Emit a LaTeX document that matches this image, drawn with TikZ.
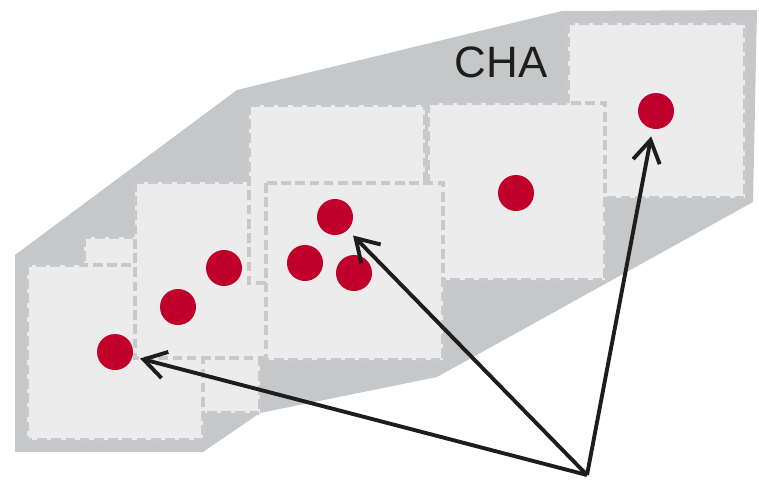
\documentclass[tikz,border=0pt]{standalone}
\usepackage{fontspec}
\setmainfont{Liberation Sans}
\usepackage{xcolor}
\usetikzlibrary{arrows.meta}
\definecolor{hullgray}{RGB}{198,199,201}
\definecolor{cellgray}{RGB}{236,236,236}
\definecolor{dashgray}{RGB}{201,201,203}
\definecolor{dotred}{RGB}{192,0,42}
\definecolor{inkblack}{RGB}{29,29,27}

\begin{document}
\begin{tikzpicture}[x=0.2mm,y=-0.2mm,
		cell/.style={fill=cellgray,draw=dashgray,line width=2.2pt,dash pattern=on 5.5pt off 2.6pt},
		pt/.style={circle,fill=dotred,inner sep=0pt,minimum size=7.2mm},
		ptr/.style={line width=2.2pt,draw=inkblack,-{Straight Barb[length=4.4mm,width=5.4mm]},shorten >=1.5mm}]
	\useasboundingbox (0,0) rectangle (759,484);
	\fill[hullgray] (15,255) -- (237,90) -- (562,11) -- (757,10) -- (753,202)
		-- (437,377) -- (260,413) -- (203,452) -- (15,452) -- cycle;
	%
	\draw[cell] (84,237) rectangle (260,413);
	\draw[cell] (27,265) rectangle (203,440);
	\draw[cell] (135,182) rectangle (312,358);
	\draw[cell] (568,23) rectangle (745,198);
	\draw[cell] (249,105) rectangle (425,283);
	\draw[cell] (428,103) rectangle (605,280);
	\draw[cell] (266,183) rectangle (443,360);
	%
	\node[text=inkblack,font=\fontsize{25}{30}\selectfont] (cha) at (501,62) {CHA};
	%
	\node[pt] (p1) at (115,352) {};
	\node[pt] (p2) at (178,307) {};
	\node[pt] (p3) at (224,268) {};
	\node[pt] (p4) at (305,263) {};
	\node[pt] (p5) at (335,217) {};
	\node[pt] (p6) at (354,273) {};
	\node[pt] (p7) at (516,193) {};
	\node[pt] (p8) at (656,111) {};
	\coordinate (src) at (587,475);
	%
	\draw[ptr] (src) -- (p1);
	\draw[ptr] (src) -- (p5);
	\draw[ptr] (src) -- (p8);
\end{tikzpicture}
\end{document}
